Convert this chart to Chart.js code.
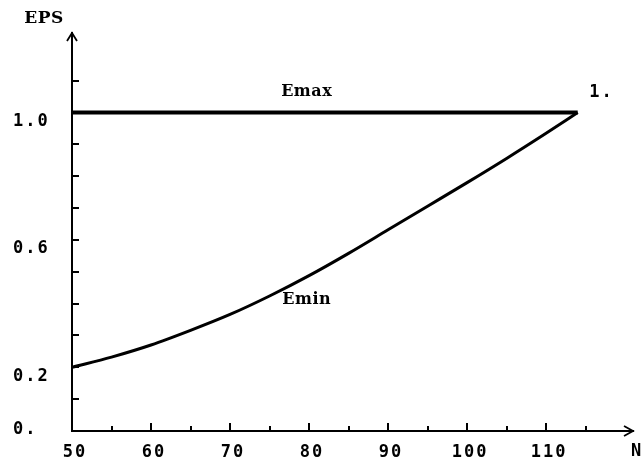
<!DOCTYPE html>
<html>
<head>
<meta charset="utf-8">
<script src="https://cdn.jsdelivr.net/npm/chart.js@4.4.1/dist/chart.umd.min.js"></script>
<style>
  html, body { margin: 0; padding: 0; background: #fff; }
  canvas { display: block; }
</style>
</head>
<body>
<canvas id="chart" width="641" height="466"></canvas>
<script>
// EPS against N: the lower bound Emin rises to meet the flat upper bound Emax.
const nValues     = [50, 55, 60, 65, 70, 75, 80, 85, 90, 95, 100, 105, 110, 114];
const eminValues  = [0.200, 0.232, 0.270, 0.316, 0.366, 0.424, 0.488, 0.558, 0.632, 0.706, 0.780, 0.856, 0.935, 1.000];
const emaxN       = [50, 114];
const emaxValues  = [1.0, 1.0];

const xTickValues = [50, 55, 60, 65, 70, 75, 80, 85, 90, 95, 100, 105, 110, 115];
const xLabelValues = [50, 60, 70, 80, 90, 100, 110];
const yTickValues = [0, 0.1, 0.2, 0.3, 0.4, 0.5, 0.6, 0.7, 0.8, 0.9, 1.0, 1.1];
const yLabelValues = [0, 0.2, 0.6, 1.0];
const yLabelTexts  = ['0.', '0.2', '0.6', '1.0'];

const MONO = '"DejaVu Sans Mono", "Liberation Mono", monospace';
const SERIF = '"DejaVu Serif", "Liberation Serif", serif';
const tickFont = { family: MONO, size: 17, weight: 'bold' };

const near = (a, b) => Math.abs(a - b) < 1e-9;

// Inward tick marks, arrow heads and the text labels on the plot.
const axisDecor = {
  id: 'axisDecor',
  beforeDraw(chart) {
    chart.ctx.letterSpacing = '2px';
  },
  afterDraw(chart) {
    const { ctx, chartArea: a, scales: { x, y } } = chart;
    ctx.save();
    ctx.strokeStyle = '#000';
    ctx.lineWidth = 2;
    ctx.lineCap = 'butt';
    ctx.beginPath();
    x.ticks.forEach(t => {
      const px = Math.round(x.getPixelForValue(t.value));
      const len = (t.value % 10 === 0) ? 8 : 5;
      ctx.moveTo(px, a.bottom);
      ctx.lineTo(px, a.bottom - len);
    });
    y.ticks.forEach(t => {
      const py = Math.round(y.getPixelForValue(t.value));
      ctx.moveTo(a.left, py);
      ctx.lineTo(a.left + 7, py);
    });
    ctx.stroke();

    ctx.lineWidth = 1.8;
    ctx.beginPath();
    ctx.moveTo(a.left - 5, a.top + 8);
    ctx.lineTo(a.left, a.top);
    ctx.lineTo(a.left + 5, a.top + 8);
    ctx.moveTo(a.right - 9, a.bottom - 5);
    ctx.lineTo(a.right, a.bottom);
    ctx.lineTo(a.right - 9, a.bottom + 5);
    ctx.stroke();

    ctx.fillStyle = '#000';
    ctx.textAlign = 'center';
    ctx.textBaseline = 'middle';
    ctx.letterSpacing = '0.5px';
    ctx.font = 'bold 16px ' + SERIF;
    ctx.fillText('Emax', x.getPixelForValue(79.7), y.getPixelForValue(1.066));
    ctx.fillText('Emin', x.getPixelForValue(79.7), y.getPixelForValue(0.412));
    ctx.font = 'bold 17px ' + SERIF;
    ctx.fillText('EPS', a.left - 28, a.top - 14);
    ctx.letterSpacing = '2px';
    ctx.font = 'bold 17px ' + MONO;
    ctx.fillText('1.', x.getPixelForValue(117.0), y.getPixelForValue(1.063));
    ctx.textAlign = 'left';
    ctx.fillText('N', a.right - 2, a.bottom + 21);
    ctx.restore();
  }
};

new Chart(document.getElementById('chart'), {
  type: 'line',
  data: {
    datasets: [
      {
        label: 'Emax',
        data: emaxN.map((n, i) => ({ x: n, y: emaxValues[i] })),
        borderColor: '#000',
        borderWidth: 4,
        pointRadius: 0,
        tension: 0
      },
      {
        label: 'Emin',
        data: nValues.map((n, i) => ({ x: n, y: eminValues[i] })),
        borderColor: '#000',
        borderWidth: 3,
        pointRadius: 0,
        cubicInterpolationMode: 'monotone'
      }
    ]
  },
  options: {
    responsive: false,
    animation: false,
    devicePixelRatio: 1,
    layout: { padding: { left: 13, top: 33, right: 8, bottom: 0 } },
    plugins: { legend: { display: false }, tooltip: { enabled: false } },
    scales: {
      x: {
        type: 'linear',
        min: 50,
        max: 121,
        grid: { display: false, drawTicks: false },
        border: { display: true, color: '#000', width: 2 },
        afterBuildTicks: s => { s.ticks = xTickValues.map(v => ({ value: v })); },
        afterFit: s => { s.height = 35; },
        ticks: {
          color: '#000',
          font: tickFont,
          padding: 11,
          labelOffset: 3,
          maxRotation: 0,
          autoSkip: false,
          callback: v => xLabelValues.includes(v) ? String(v) : ''
        }
      },
      y: {
        type: 'linear',
        min: 0,
        max: 1.25,
        grid: { display: false, drawTicks: false },
        border: { display: true, color: '#000', width: 2 },
        afterBuildTicks: s => { s.ticks = yTickValues.map(v => ({ value: v })); },
        afterFit: s => { s.width = 59; },
        ticks: {
          color: '#000',
          font: tickFont,
          crossAlign: 'far',
          labelOffset: 9,
          autoSkip: false,
          callback: v => {
            const i = yLabelValues.findIndex(w => near(w, v));
            if (i < 0) return '';
            return near(v, 0) ? [yLabelTexts[i], ''] : yLabelTexts[i];
          }
        }
      }
    }
  },
  plugins: [axisDecor]
});
</script>
</body>
</html>
